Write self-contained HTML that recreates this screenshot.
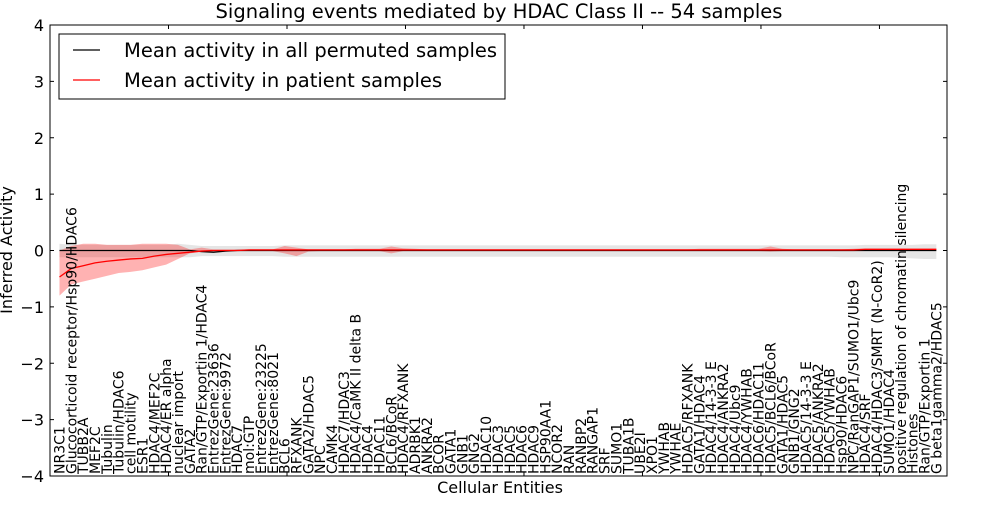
<!DOCTYPE html>
<html><head><meta charset="utf-8"><style>
body{margin:0;background:#fff;width:1000px;height:500px;overflow:hidden;font-family:"Liberation Sans","DejaVu Sans",sans-serif}
svg text{font-family:"DejaVu Sans","Liberation Sans",sans-serif}
</style></head><body>
<svg id="chart" width="1000" height="500" xmlns="http://www.w3.org/2000/svg">
<text x="499" y="18" font-size="19.5" text-anchor="middle">Signaling events mediated by HDAC Class II -- 54 samples</text>
<g id="plot"></g>
<text x="500" y="493" font-size="16" text-anchor="middle">Cellular Entities</text>
<text transform="translate(12,250) rotate(-90)" font-size="16" text-anchor="middle">Inferred Activity</text>
<g>
<rect x="59" y="34" width="446" height="65" fill="#fff" stroke="#000" stroke-width="1"/>
<line x1="73" y1="50" x2="100" y2="50" stroke="#000" stroke-width="1.2"/>
<text x="124" y="57" font-size="19.5">Mean activity in all permuted samples</text>
<line x1="73" y1="80" x2="100" y2="80" stroke="#f00" stroke-width="1.2"/>
<text x="124" y="87" font-size="19.5">Mean activity in patient samples</text>
</g>
</svg>
<script>
const categories=["NR3C1","Glucocorticoid receptor/Hsp90/HDAC6","TUBB2A","MEF2C","Tubulin","Tubulin/HDAC6","cell motility","ESR1","HDAC4/MEF2C","HDAC4/ER alpha","nuclear import","GATA2","Ran/GTP/Exportin 1/HDAC4","EntrezGene:23636","EntrezGene:9972","HDAC7","mol:GTP","EntrezGene:23225","EntrezGene:8021","BCL6","RFXANK","GATA2/HDAC5","NPC","CAMK4","HDAC7/HDAC3","HDAC4/CaMK II delta B","HDAC4","HDAC11","BCL6/BCoR","HDAC4/RFXANK","ADRBK1","ANKRA2","BCOR","GATA1","GNB1","GNG2","HDAC10","HDAC3","HDAC5","HDAC6","HDAC9","HSP90AA1","NCOR2","RAN","RANBP2","RANGAP1","SRF","SUMO1","TUBA1B","UBE2I","XPO1","YWHAB","YWHAE","HDAC5/RFXANK","GATA1/HDAC4","HDAC4/14-3-3 E","HDAC4/ANKRA2","HDAC4/Ubc9","HDAC4/YWHAB","HDAC6/HDAC11","HDAC5/BCL6/BCoR","GATA1/HDAC5","GNB1/GNG2","HDAC5/14-3-3 E","HDAC5/ANKRA2","HDAC5/YWHAB","Hsp90/HDAC6","NPC/RanGAP1/SUMO1/Ubc9","HDAC4/SRF","HDAC4/HDAC3/SMRT (N-CoR2)","SUMO1/HDAC4","positive regulation of chromatin silencing","Histones","Ran/GTP/Exportin 1","G beta1gamma2/HDAC5"];
const patientMean=[-0.47,-0.32,-0.27,-0.22,-0.19,-0.17,-0.15,-0.14,-0.1,-0.07,-0.05,-0.03,-0.01,0,0,0,0.01,0.01,0.01,0.01,0.01,0.01,0.01,0.01,0.01,0.01,0.01,0.01,0.01,0.01,0.01,0.01,0.01,0.01,0.01,0.01,0.01,0.01,0.01,0.01,0.01,0.01,0.01,0.01,0.01,0.01,0.01,0.01,0.01,0.01,0.01,0.01,0.01,0.01,0.01,0.01,0.01,0.01,0.01,0.01,0.01,0.01,0.01,0.01,0.01,0.01,0.01,0.01,0.02,0.02,0.02,0.02,0.02,0.02,0.02];
const patientUpper=[0,0.08,0.12,0.12,0.1,0.1,0.1,0.12,0.12,0.12,0.1,0.02,0.05,0.02,0.02,0.02,0.02,0.02,0.02,0.08,0.05,0.02,0.02,0.02,0.02,0.03,0.03,0.03,0.07,0.04,0.03,0.02,0.02,0.02,0.02,0.02,0.02,0.02,0.02,0.02,0.02,0.02,0.02,0.02,0.02,0.02,0.02,0.02,0.02,0.02,0.02,0.02,0.02,0.02,0.03,0.03,0.03,0.03,0.03,0.03,0.07,0.03,0.02,0.02,0.02,0.02,0.02,0.03,0.04,0.04,0.04,0.04,0.04,0.04,0.04];
const patientLower=[-0.8,-0.6,-0.55,-0.5,-0.45,-0.4,-0.38,-0.35,-0.3,-0.25,-0.15,-0.05,-0.02,-0.01,-0.01,-0.01,-0.01,-0.01,-0.01,-0.05,-0.1,-0.02,-0.01,-0.01,-0.01,-0.01,-0.01,-0.01,-0.05,-0.01,-0.01,-0.01,-0.01,-0.01,-0.01,-0.01,-0.01,-0.01,-0.01,-0.01,-0.01,-0.01,-0.01,-0.01,-0.01,-0.01,-0.01,-0.01,-0.01,-0.01,-0.01,-0.01,-0.01,-0.01,-0.01,-0.01,-0.01,-0.01,-0.01,-0.01,-0.02,-0.01,-0.01,-0.01,-0.01,-0.01,-0.01,-0.01,0,0,0,0,0,0,0];
const permMean=[0,0,0,0,0,0,0,0,0,0,0,0,-0.02,-0.03,-0.01,0,0,0,0,0,0,0,0,0,0,0,0,0,0,0,0,0,0,0,0,0,0,0,0,0,0,0,0,0,0,0,0,0,0,0,0,0,0,0,0,0,0,0,0,0,0,0,0,0,0,0,0,0,0,0,0,0,0,0,0];
const permUpper=[0.12,0.1,0.1,0.1,0.1,0.1,0.1,0.1,0.1,0.1,0.12,0.1,0.08,0.08,0.08,0.08,0.08,0.08,0.08,0.09,0.09,0.09,0.09,0.09,0.09,0.09,0.09,0.09,0.09,0.09,0.09,0.09,0.09,0.09,0.09,0.09,0.09,0.09,0.09,0.09,0.09,0.09,0.09,0.09,0.09,0.09,0.09,0.09,0.09,0.09,0.09,0.09,0.09,0.09,0.09,0.09,0.09,0.09,0.09,0.09,0.09,0.09,0.09,0.09,0.09,0.09,0.09,0.09,0.1,0.1,0.1,0.1,0.1,0.11,0.11];
const permLower=[-0.12,-0.12,-0.12,-0.12,-0.12,-0.12,-0.12,-0.12,-0.12,-0.12,-0.12,-0.12,-0.1,-0.1,-0.1,-0.1,-0.1,-0.1,-0.1,-0.11,-0.11,-0.11,-0.11,-0.11,-0.11,-0.11,-0.11,-0.11,-0.11,-0.11,-0.11,-0.11,-0.11,-0.11,-0.11,-0.11,-0.11,-0.11,-0.11,-0.11,-0.11,-0.11,-0.11,-0.11,-0.11,-0.11,-0.11,-0.11,-0.11,-0.11,-0.11,-0.11,-0.11,-0.11,-0.11,-0.11,-0.11,-0.11,-0.11,-0.11,-0.11,-0.11,-0.11,-0.11,-0.11,-0.11,-0.12,-0.12,-0.12,-0.12,-0.12,-0.13,-0.14,-0.15,-0.15];
const yTicks=[4,3,2,1,0,-1,-2,-3,-4];

const L=50,R=947,T=25,B=476,xMax=75.7,OFF=0.8;
const x=v=>L+(v)/xMax*(R-L);
const y=v=>T+(4-v)/8*(B-T);
const NS="http://www.w3.org/2000/svg";
const g=document.getElementById('plot');
function mk(tag,attrs,parent){const e=document.createElementNS(NS,tag);for(const k in attrs)e.setAttribute(k,attrs[k]);(parent||g).appendChild(e);return e;}
function band(up,lo,fill,op,name){
  let d="M"+up.map((v,i)=>x(i+OFF)+","+y(v)).join("L");
  for(let i=lo.length-1;i>=0;i--)d+="L"+x(i+OFF)+","+y(lo[i]);
  const p=mk('path',{d:d+"Z",fill:fill,'fill-opacity':op,stroke:'none'});
  
  
}
function line(vals,col,name,dash){
  const p=mk('path',{d:"M"+vals.map((v,i)=>x(i+OFF)+","+y(v)).join("L"),fill:'none',stroke:col,'stroke-width':1.3});
  if(dash)p.setAttribute('stroke-dasharray',dash);
  
  
}
band(permUpper,permLower,'#999',0.25,'permuted-band');
band(patientUpper,patientLower,'#f00',0.3,'patient-band');
line(permMean,'#000','permuted-mean-line');
line(patientMean,'#f00','patient-mean-line');
const frame=mk('rect',{x:L,y:T,width:R-L,height:B-T,fill:'none',stroke:'#000','stroke-width':1});


yTicks.forEach(t=>{
  mk('line',{x1:L,x2:L+4,y1:y(t),y2:y(t),stroke:'#000'});
  mk('line',{x1:R-4,x2:R,y1:y(t),y2:y(t),stroke:'#000'});
  const tx=mk('text',{x:L-6,y:y(t)+6,'font-size':16,'text-anchor':'end'});
  tx.textContent=(t<0?"\u2212":"")+Math.abs(t);
  
  
});
for(let v=10;v<xMax;v+=10){
  mk('line',{x1:x(v),x2:x(v),y1:T,y2:T+4,stroke:'#000'});
  mk('line',{x1:x(v),x2:x(v),y1:B-4,y2:B,stroke:'#000'});
}
categories.forEach((c,i)=>{
  const px=x(i+OFF)+5;
  const tx=mk('text',{transform:`translate(${px},${B-2}) rotate(-90)`,'font-size':14});
  tx.textContent=c;
  
  
});
</script>
</body></html>
